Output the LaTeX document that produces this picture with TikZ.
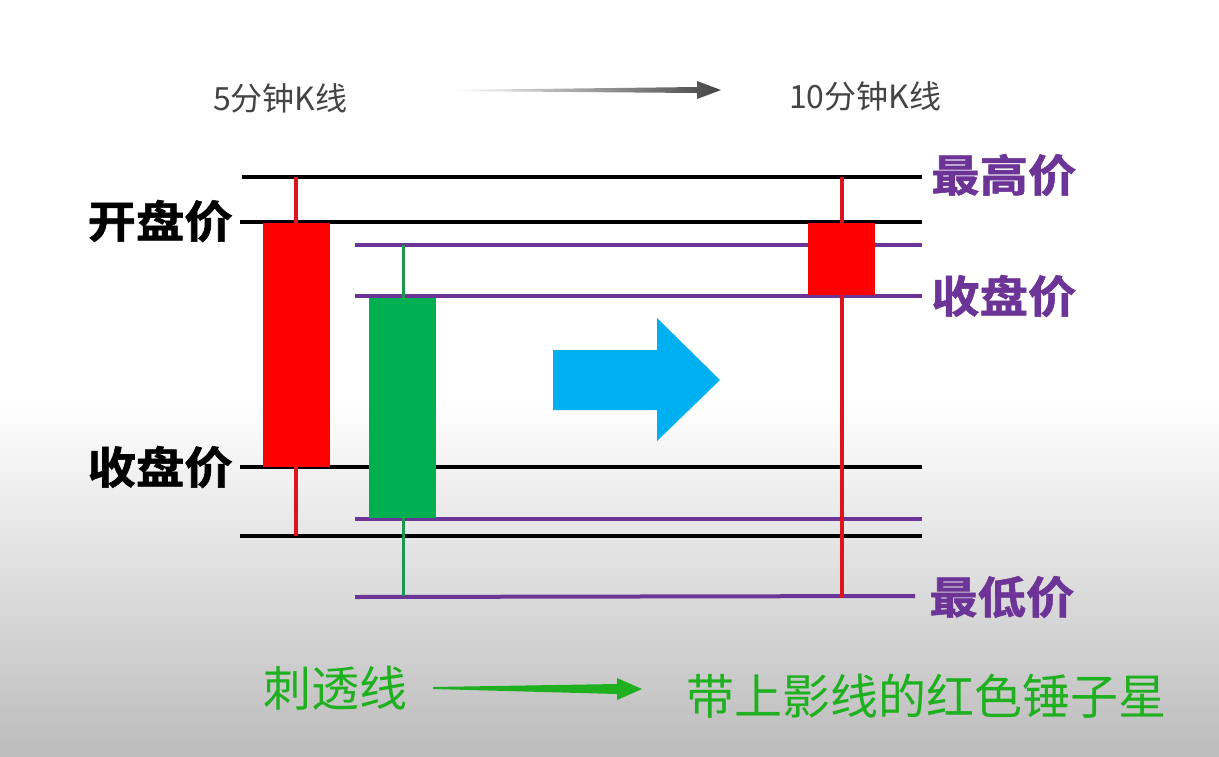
\documentclass[tikz,border=0pt]{standalone}
\usepackage{fontspec}
\setmainfont{Noto Sans CJK SC}[BoldFont={Noto Sans CJK SC Bold}]
\newfontfamily\heavyfont{Noto Sans CJK SC Bold}[FakeBold=1.2]
\definecolor{kpurple}{RGB}{108,52,150}
\definecolor{kred}{RGB}{255,0,0}
\definecolor{wickred}{RGB}{220,20,30}
\definecolor{kgreen}{RGB}{0,176,80}
\definecolor{wickgreen}{RGB}{30,150,80}
\definecolor{kblue}{RGB}{0,176,240}
\definecolor{tgreen}{RGB}{30,176,30}
\definecolor{tgrey}{RGB}{68,68,68}
\tikzset{
  blackline/.style={line width=4pt, black},
  purpline/.style={line width=4pt, kpurple},
  redwick/.style={line width=3.5pt, wickred},
  greenwick/.style={line width=3pt, wickgreen},
  blacklabel/.style={font=\fontsize{44}{46}\heavyfont, text=black, inner sep=0pt, xscale=1.1},
  purplabel/.style={font=\fontsize{44}{46}\heavyfont, text=kpurple, inner sep=0pt, xscale=1.1},
  toplabel/.style={font=\fontsize{32}{34}\selectfont, text=tgrey, inner sep=0pt},
  greenlabel/.style={font=\fontsize{48}{50}\selectfont, text=tgreen, inner sep=0pt}
}
\begin{document}
\begin{tikzpicture}[x=1pt,y=-1pt]
\useasboundingbox (0,0) rectangle (1219,756);
\fill[white] (0,0) rectangle (1219,400);
\shade[top color=white, bottom color={rgb,255:red,188;green,188;blue,188}] (0,400) rectangle (1219,756);

% top labels and arrow
\node[toplabel, anchor=west] (t5) at (213,98) {5分钟K线};
\node[toplabel, anchor=west] (t10) at (789,96) {10分钟K线};
\coordinate (ta1) at (450,90);
\coordinate (ta2) at (721,90);
\shade[left color=white, right color=tgrey]
  (ta1) -- (697,87) -- (697,81) -- (ta2) -- (697,99) -- (697,93) -- (450,91) -- cycle;

% horizontal lines
\draw[blackline] (242,177) -- (922,177);
\draw[blackline] (240,222) -- (922,222);
\draw[purpline] (355,245) -- (922,245);
\draw[purpline] (355,296) -- (922,296);
\draw[blackline] (240,467) -- (922,467);
\draw[purpline] (355,519) -- (922,519);
\draw[blackline] (240,536) -- (922,536);
\draw[purpline] (355,597) -- (915,596);

% 5 min candles
\draw[redwick] (296,177) -- (296,536);
\fill[kred] (263,223) rectangle (330,467);
\draw[greenwick] (403,245) -- (403,596);
\fill[kgreen] (369,298) rectangle (436,518);

% 10 min candle
\draw[redwick] (842,177) -- (842,598);
\fill[kred] (808,223) rectangle (875,295);

% blue arrow
\fill[kblue] (553,350) -- (657,350) -- (657,318) -- (720,380) -- (657,441) -- (657,410) -- (553,410) -- cycle;

% labels
\node[blacklabel, anchor=east] (open5) at (233,221) {开盘价};
\node[blacklabel, anchor=east] (close5) at (233,467) {收盘价};
\node[purplabel, anchor=west] (high10) at (931,175) {最高价};
\node[purplabel, anchor=west] (close10) at (931,296) {收盘价};
\node[purplabel, anchor=west] (low10) at (929,597) {最低价};

% bottom labels and arrow
\node[greenlabel, anchor=west] (b1) at (263,688) {刺透线};
\node[greenlabel, anchor=west] (b2) at (686,696) {带上影线的红色锤子星};
\coordinate (ba1) at (433,687);
\coordinate (ba2) at (642,689);
\fill[tgreen] (ba1) -- (617,684) -- (617,678) -- (ba2) -- (617,700) -- (617,694) -- (433,689) -- cycle;
\end{tikzpicture}
\end{document}
